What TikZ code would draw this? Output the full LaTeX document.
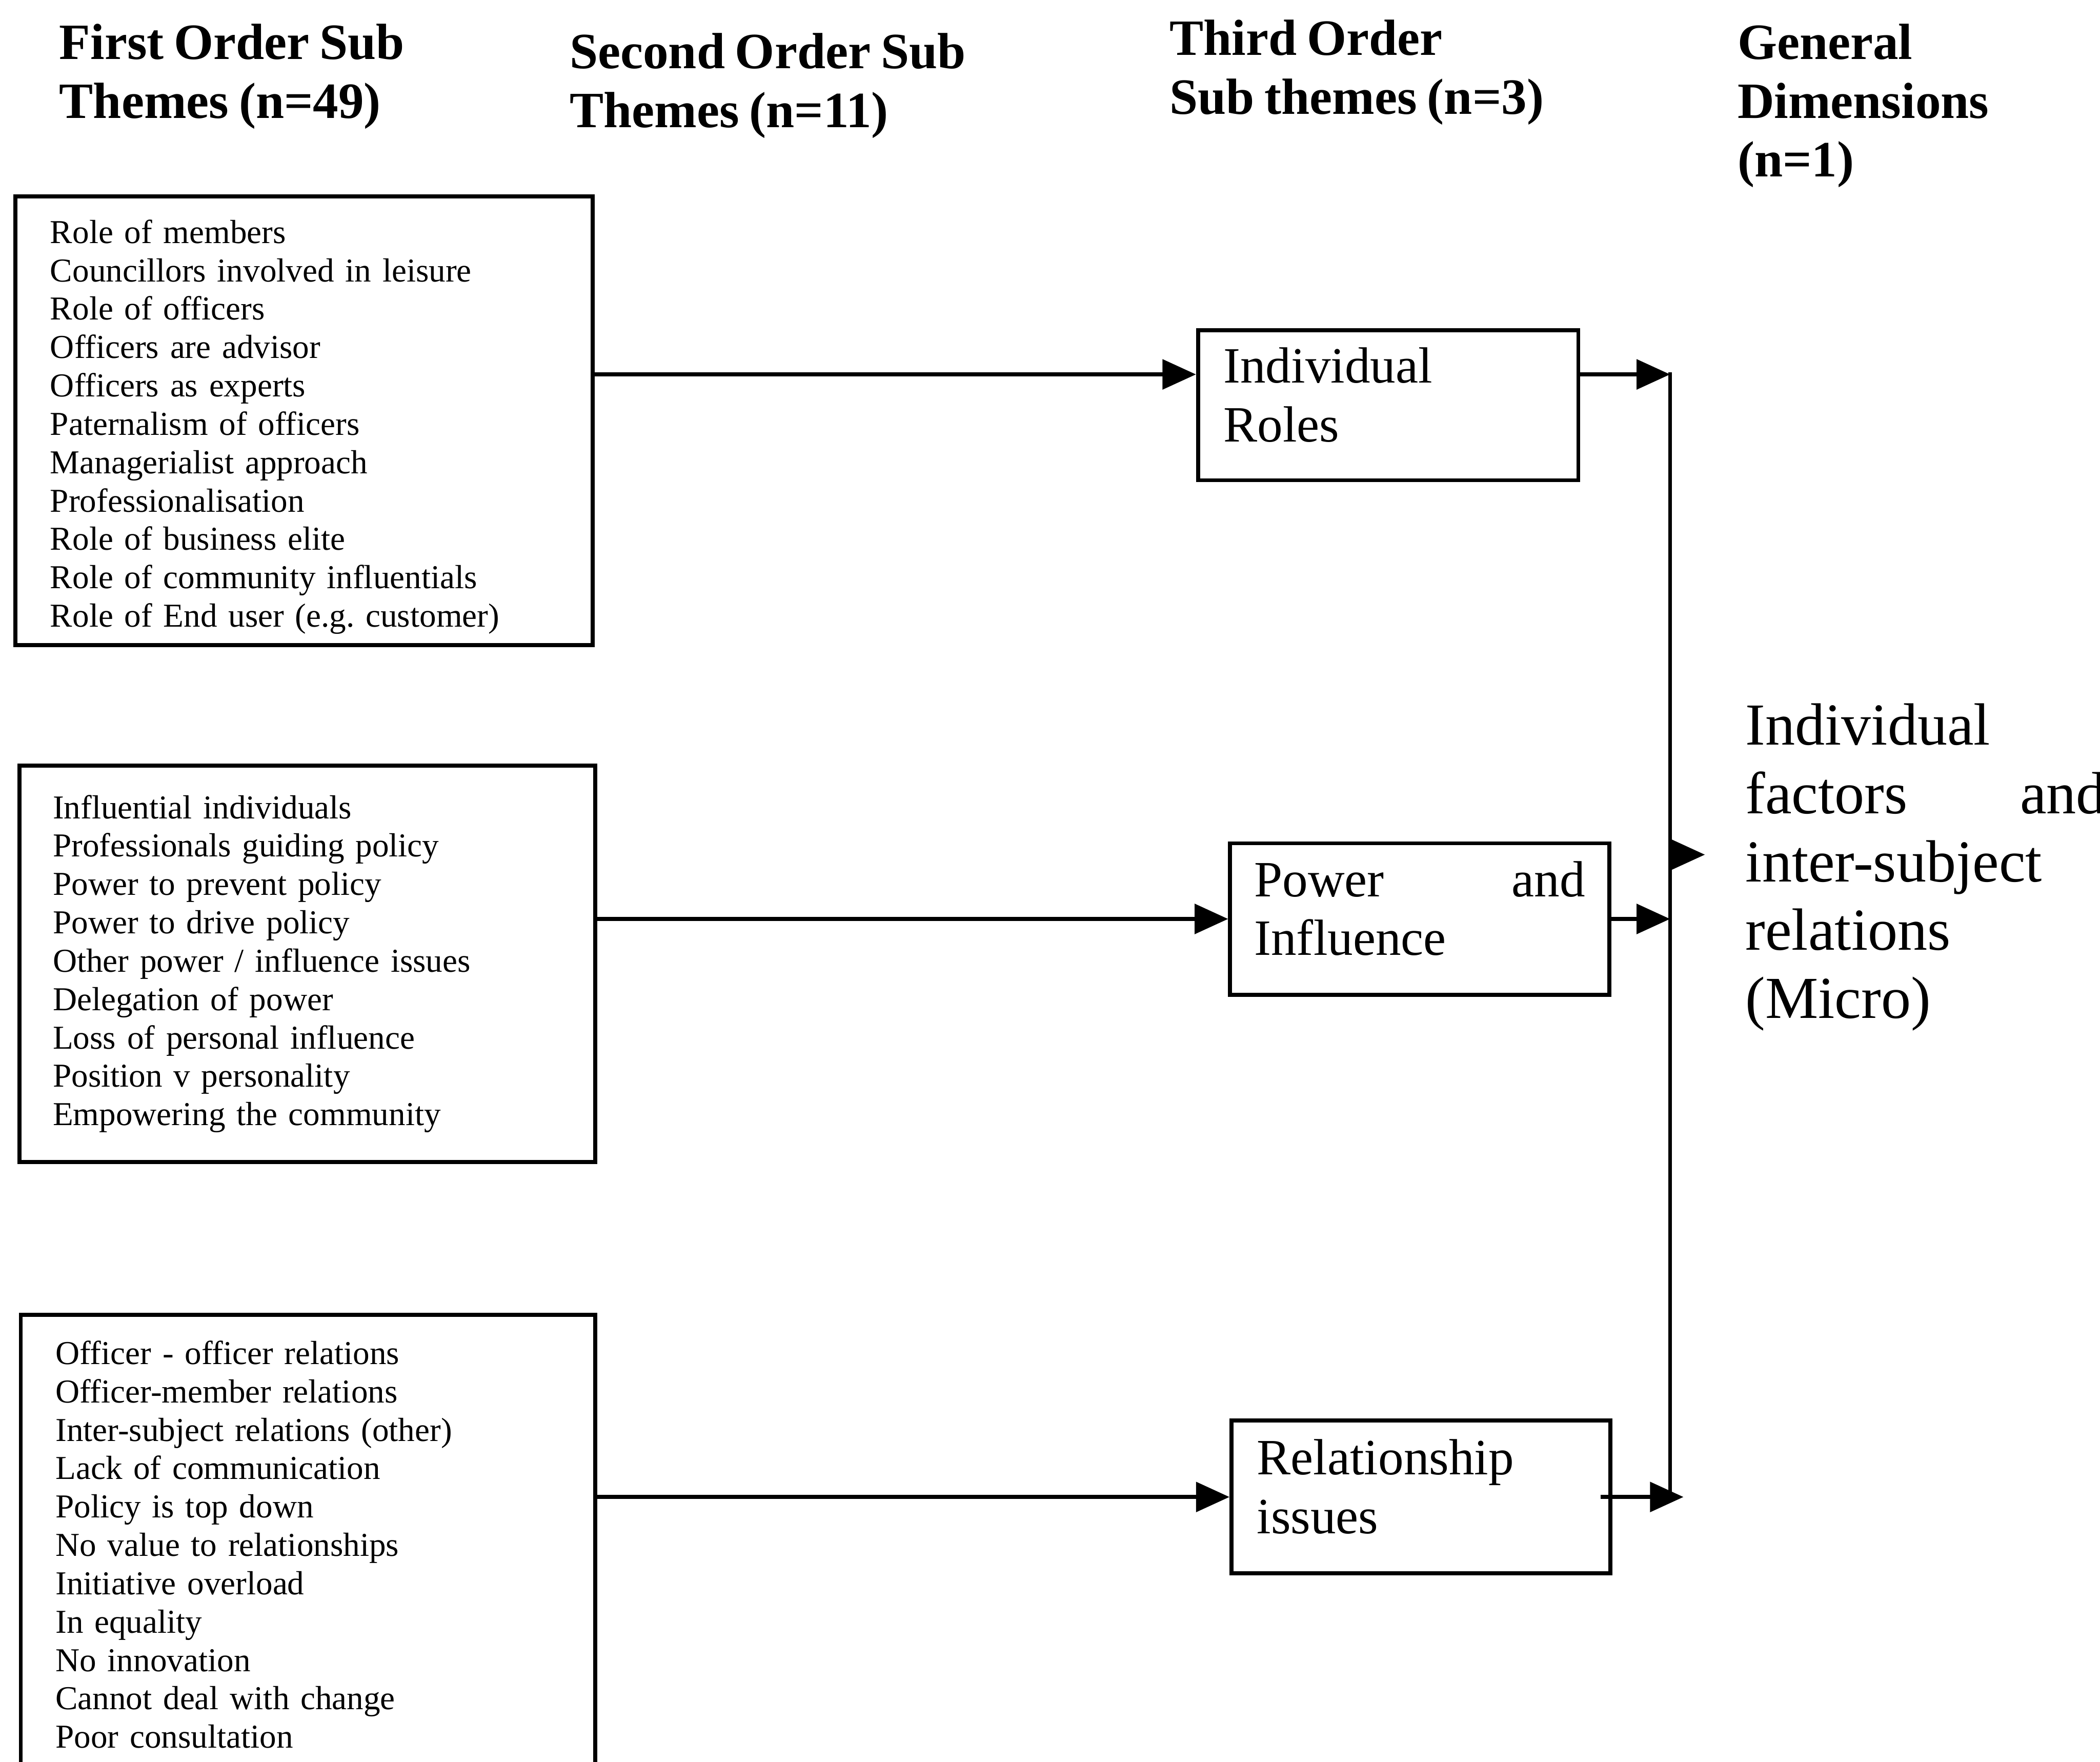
\documentclass[tikz,border=0pt]{standalone}
\usepackage{fontspec}
\setmainfont{Liberation Serif}[WordSpace=0.8]
\usetikzlibrary{arrows.meta,positioning}

\tikzset{
  head/.style={anchor=north west, inner sep=0pt, align=left,
    font=\bfseries\fontsize{21.6}{25}\selectfont},
  listbox/.style={draw, line width=1.7pt, anchor=north west, align=left,
    inner ysep=0pt, font=\fontsize{14.2}{16.3}\selectfont},
  themebox/.style={draw, line width=1.7pt, anchor=north west, align=left,
    inner ysep=0pt, font=\fontsize{21.6}{25}\selectfont,
    execute at end node={\rule[-0.32cm]{0pt}{0.32cm}}},
  flow/.style={line width=1.7pt, -{Triangle[length=0.5cm,width=0.44cm]}}
}

\begin{document}
\frenchspacing
\begin{tikzpicture}
\useasboundingbox (0,0) rectangle (31.36,-26.30);

% column headings
\node[head] (h1) at (0.88,-0.35) {First Order Sub\\Themes (n=49)};
\node[head] (h2) at (8.50,-0.49) {Second Order Sub\\Themes (n=11)};
\node[head] (h3) at (17.46,-0.29) {Third Order\\Sub themes (n=3)};
\node[head] (h4) at (25.94,-0.35) {General\\Dimensions\\(n=1)};

% first order lists
\node[listbox, minimum width=8.62cm, minimum height=6.70cm, inner xsep=0.52cm, text width=7.58cm,
  execute at begin node={\rule{0pt}{0.54cm}}] (roles1) at (0.20,-2.90)
  {Role of members\\Councillors involved in leisure\\Role of officers\\Officers are advisor\\Officers as experts\\Paternalism of officers\\Managerialist approach\\Professionalisation\\Role of business elite\\Role of community influentials\\Role of End user (e.g. customer)};
\node[listbox, minimum width=8.60cm, minimum height=5.92cm, inner xsep=0.50cm, text width=7.60cm] (power1) at (0.26,-11.40)
  {Influential individuals\\Professionals guiding policy\\Power to prevent policy\\Power to drive policy\\Other power / influence issues\\Delegation of power\\Loss of personal influence\\Position v personality\\Empowering the community};
\node[listbox, minimum width=8.58cm, minimum height=6.86cm, inner xsep=0.52cm, text width=7.54cm] (rel1) at (0.28,-19.60)
  {Officer - officer relations\\Officer-member relations\\Inter-subject relations (other)\\Lack of communication\\Policy is top down\\No value to relationships\\Initiative overload\\In equality\\No innovation\\Cannot deal with change\\Poor consultation};

% third order themes
\node[themebox, minimum width=5.68cm, minimum height=2.24cm, inner xsep=0.38cm, text width=4.92cm] (r1) at (17.86,-4.90) {Individual\\Roles};
\node[themebox, minimum width=5.66cm, minimum height=2.26cm, inner xsep=0.36cm, text width=4.94cm] (r2) at (18.34,-12.56) {Power\hfill and\\Influence};
\node[themebox, minimum width=5.66cm, minimum height=2.28cm, inner xsep=0.38cm, text width=4.90cm] (r3) at (18.36,-21.18) {Relationship\\issues};

% general dimension
\node[anchor=north west, inner sep=0pt, align=left, font=\fontsize{25.3}{29}\selectfont] (dim) at (26.06,-10.50)
  {Individual\\factors\hspace{1.68cm}and\\inter-subject\\relations\\(Micro)};

% arrows
\coordinate (a1) at ([yshift=0.46cm]r1.west);
\draw[flow] (roles1.east |- a1) -- (a1);
\draw[flow] (power1.east |- r2.west) -- (r2.west);
\draw[flow] (rel1.east |- r3.west) -- (r3.west);

\coordinate (bustop) at (24.94,-5.56);
\coordinate (dimin) at (25.46,-12.76);
\draw[line width=1.7pt] (bustop) -- (bustop |- r3.east);
\draw[flow] (r1.east |- a1) -- (bustop |- a1);
\draw[flow] (r2.east) -- (bustop |- r2.east);
\draw[flow] ([xshift=-0.18cm]r3.east) -- ([xshift=0.2cm]bustop |- r3.east);
\draw[flow] (bustop |- dimin) -- (dimin);

\end{tikzpicture}
\end{document}
